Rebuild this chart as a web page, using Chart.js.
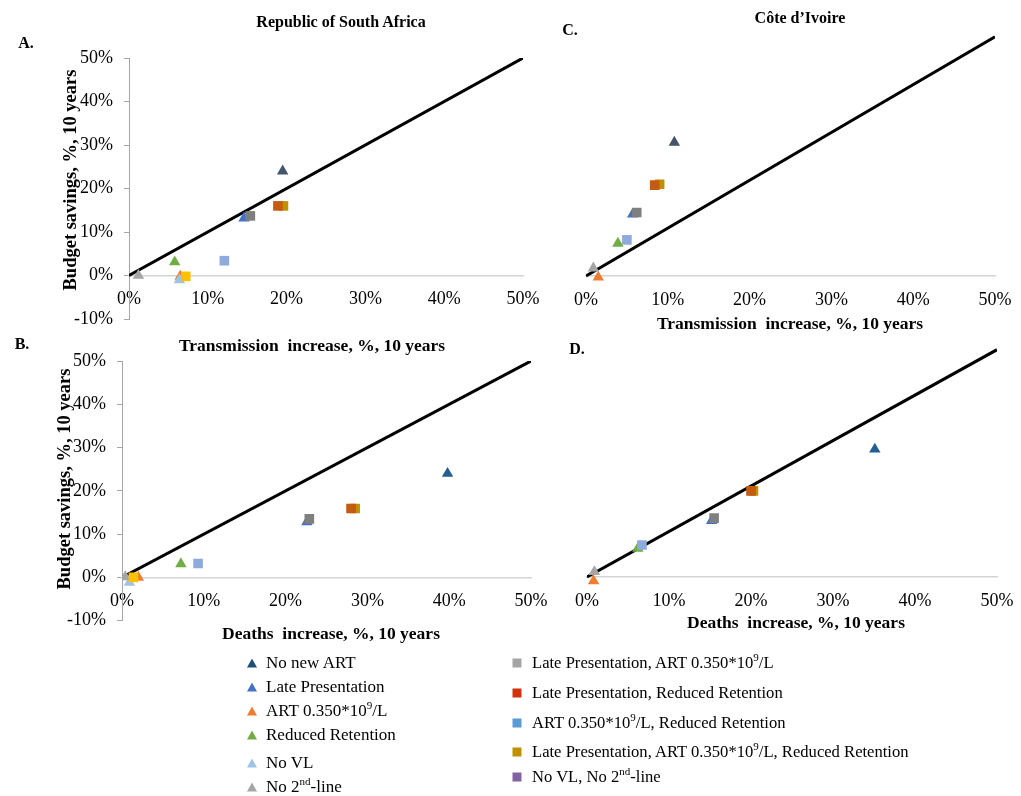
<!DOCTYPE html>
<html>
<head>
<meta charset="utf-8">
<script src="https://cdn.jsdelivr.net/npm/chart.js@4.4.1/dist/chart.umd.min.js"></script>
<style>
  body { margin: 0; background: #fff; }
  #page { position: relative; width: 1021px; height: 796px; overflow: hidden; background: #fff;
          font-family: "Liberation Serif", "Times New Roman", serif; color: #000; }
  #page canvas { position: absolute; left: 0; top: 0; pointer-events: none; }
  .t { position: absolute; white-space: nowrap; font-weight: bold; font-size: 17.5px; transform: translate(-50%, -50%); }
  .ttl { font-size: 16px; }
  .rot { font-size: 18.5px; transform: translate(-50%, -50%) rotate(-90deg); }
  .lg { position: absolute; white-space: nowrap; font-size: 17px; transform: translateY(-50%); }
  .lg.r { font-size: 16.6px; }
  .lg sup { font-size: 11px; vertical-align: 7px; line-height: 0; }
  .tri { position: absolute; width: 0; height: 0; border-left: 5px solid transparent; border-right: 5px solid transparent;
         border-bottom: 9px solid; transform: translate(-50%, -50%); }
  .sq { position: absolute; width: 9px; height: 9px; transform: translate(-50%, -50%); }
</style>
</head>
<body>
<div id="page">
  <canvas id="chartA" width="1100" height="796"></canvas>
  <canvas id="chartB" width="1100" height="796"></canvas>
  <canvas id="chartC" width="1100" height="796"></canvas>
  <canvas id="chartD" width="1100" height="796"></canvas>

  <div class="t ttl" style="left:341px;top:22px;">Republic of South Africa</div>
  <div class="t ttl" style="left:800px;top:18px;">Côte d’Ivoire</div>
  <div class="t ttl" style="left:26px;top:43px;">A.</div>
  <div class="t ttl" style="left:570px;top:30px;">C.</div>
  <div class="t ttl" style="left:22px;top:344px;">B.</div>
  <div class="t ttl" style="left:577px;top:349px;">D.</div>

  <div class="t" style="left:312px;top:345px;">Transmission&nbsp; increase, %, 10 years</div>
  <div class="t" style="left:790px;top:323px;">Transmission&nbsp; increase, %, 10 years</div>
  <div class="t" style="left:331px;top:633px;">Deaths&nbsp; increase, %, 10 years</div>
  <div class="t" style="left:796px;top:622px;">Deaths&nbsp; increase, %, 10 years</div>
  <div class="t rot" style="left:70px;top:180px;">Budget savings, %, 10 years</div>
  <div class="t rot" style="left:64px;top:479px;">Budget savings, %, 10 years</div>

  <div id="legend"></div>
</div>

<script>
// Scenario names (legend order) and marker shapes
const seriesNames = [
  'No new ART',
  'Late Presentation',
  'ART 0.350*10<sup>9</sup>/L',
  'Reduced Retention',
  'No VL',
  'No 2<sup>nd</sup>-line',
  'Late Presentation, ART 0.350*10<sup>9</sup>/L',
  'Late Presentation, Reduced Retention',
  'ART 0.350*10<sup>9</sup>/L, Reduced Retention',
  'Late Presentation, ART 0.350*10<sup>9</sup>/L, Reduced Retention',
  'No VL, No 2<sup>nd</sup>-line'
];
const seriesShapes = ['triangle', 'triangle', 'triangle', 'triangle', 'triangle', 'triangle',
                      'rect', 'rect', 'rect', 'rect', 'rect'];

// Marker colours in the plots
const plotColours = ['#44546A', '#4472C4', '#ED7D31', '#70AD47', '#9DC3E6', '#A5A5A5',
                     '#7F7F7F', '#C55A11', '#8FAADC', '#BF9000', '#FFC000'];
const deathsNavy = '#255E91';
// Legend swatch colours
const legendColours = ['#1F4E79', '#4472C4', '#ED7D31', '#70AD47', '#9DC3E6', '#A5A5A5',
                       '#A5A5A5', '#D1340C', '#5B9BD5', '#C09000', '#8064A2'];

// A. South Africa: transmission increase (%) vs budget savings (%)
const rsaTransmission = [19.5, 14.6, 6.5, 5.8, 6.4, 1.2, 15.4, 18.9, 12.1, 19.6, 7.2];
const rsaTransSavings = [24.0, 13.2, -0.2, 3.1, -1.0, 0.0, 13.7, 16.0, 3.4, 16.0, -0.2];

// B. South Africa: deaths increase (%) vs budget savings (%)
const rsaDeaths        = [39.8, 22.6, 2.0, 7.2, 0.9, 0.4, 22.9, 28.0, 9.3, 28.5, 1.4];
const rsaDeathsSavings = [24.0, 12.8, 0.0, 3.1, -1.2, 0.1, 13.5, 15.9, 3.2, 15.9, 0.0];

// C. Côte d'Ivoire: transmission increase (%) vs budget savings (%)
const civTransmission = [10.8, 5.7, 1.5, 3.9, null, 0.9, 6.2, 8.4, 5.0, 9.0, null];
const civTransSavings = [30.7, 14.2, -0.3, 7.5, null, 1.8, 14.6, 20.9, 8.3, 21.1, null];

// D. Côte d'Ivoire: deaths increase (%) vs budget savings (%)
const civDeaths        = [35.1, 15.2, 0.8, 6.2, null, 0.9, 15.5, 20.0, 6.7, 20.3, null];
const civDeathsSavings = [29.5, 13.0, -0.9, 6.6, null, 1.2, 13.6, 19.9, 7.4, 19.9, null];

// Break-even reference lines (x and y end points, %)
const breakEvenX = [0, 50];
const breakEvenYA = [0, 50];
const breakEvenYB = [0, 50];
const breakEvenYC = [0, 55];
const breakEvenYD = [0, 52.5];

// Axis ticks
const xTicks = [0, 10, 20, 30, 40, 50];

// Canvas size (wider than the page so edge labels never squeeze the plot area)
const W = 1100, H = 796, Y_AXIS_W = 70;
const FONT = '"Liberation Serif", "Times New Roman", serif';

function drawPanel(id, area, yMin, yMax, xs, ys, lineY, showY, navy) {
  const datasets = [{
    data: breakEvenX.map((x, i) => ({ x, y: lineY[i] })),
    showLine: true, borderColor: '#000', borderWidth: 3, pointRadius: 0, fill: false, order: 100
  }];
  seriesNames.forEach((name, i) => {
    if (xs[i] == null) return;
    const tri = seriesShapes[i] === 'triangle';
    const colour = (i === 0 && navy) ? navy : plotColours[i];
    datasets.push({
      label: name,
      data: [{ x: xs[i], y: ys[i] }],
      pointStyle: seriesShapes[i],
      pointRadius: tri ? 6.6 : 6.8,
      backgroundColor: colour,
      borderColor: colour,
      pointBorderWidth: 0,
      order: i === 7 ? 40 : 50 - i
    });
  });

  new Chart(document.getElementById(id), {
    type: 'scatter',
    data: { datasets },
    options: {
      responsive: false,
      animation: false,
      devicePixelRatio: 1,
      events: [],
      layout: {
        padding: {
          left: showY ? area.left - Y_AXIS_W : area.left,
          right: W - area.right,
          top: area.top,
          bottom: H - area.bottom
        }
      },
      plugins: { legend: { display: false }, tooltip: { enabled: false } },
      scales: {
        x: {
          type: 'linear', min: 0, max: 50,
          position: { y: 0 },
          afterFit: s => { s.height = 0; },
          afterBuildTicks: s => { s.ticks = xTicks.map(v => ({ value: v })); },
          grid: { display: true, drawOnChartArea: false, drawTicks: false },
          border: { display: true, color: '#D4D4D4', width: 1.5 },
          ticks: { padding: 13, color: '#000', font: { family: FONT, size: 18 },
                   maxRotation: 0, callback: v => v + '%' }
        },
        y: {
          type: 'linear', min: yMin, max: yMax, display: showY,
          afterFit: s => { s.width = showY ? Y_AXIS_W : 0; },
          grid: { drawOnChartArea: false, drawTicks: true, tickLength: 5, color: '#A6A6A6' },
          border: { display: true, color: '#A6A6A6', width: 1 },
          ticks: { stepSize: 10, padding: 11, color: '#000', font: { family: FONT, size: 18 },
                   callback: v => v + '%' }
        }
      }
    }
  });
}

drawPanel('chartA', { left: 129, right: 523, top: 58, bottom: 319 }, -10, 50,
          rsaTransmission, rsaTransSavings, breakEvenYA, true, null);
drawPanel('chartB', { left: 122, right: 531, top: 361, bottom: 620.6 }, -10, 50,
          rsaDeaths, rsaDeathsSavings, breakEvenYB, true, deathsNavy);
drawPanel('chartC', { left: 586, right: 995, top: 15, bottom: 319.5 }, -10, 60,
          civTransmission, civTransSavings, breakEvenYC, false, null);
drawPanel('chartD', { left: 587, right: 997, top: 317.2, bottom: 620.3 }, -10, 60,
          civDeaths, civDeathsSavings, breakEvenYD, false, deathsNavy);

// Two-column legend below the panels
const legend = document.getElementById('legend');
const leftRows = [663, 687, 711, 735, 763, 787];
const rightRows = [663, 693, 723, 752, 777];
seriesNames.forEach((name, i) => {
  const left = i < 6;
  const y = left ? leftRows[i] : rightRows[i - 6];
  const mx = left ? 252 : 517;
  const tx = left ? 266 : 532;
  const m = document.createElement('div');
  if (seriesShapes[i] === 'triangle') {
    m.className = 'tri';
    m.style.borderBottomColor = legendColours[i];
  } else {
    m.className = 'sq';
    m.style.background = legendColours[i];
  }
  m.style.left = mx + 'px';
  m.style.top = y + 'px';
  legend.appendChild(m);
  const t = document.createElement('div');
  t.className = left ? 'lg' : 'lg r';
  t.style.left = tx + 'px';
  t.style.top = y + 'px';
  t.innerHTML = name;
  legend.appendChild(t);
});
</script>
</body>
</html>
